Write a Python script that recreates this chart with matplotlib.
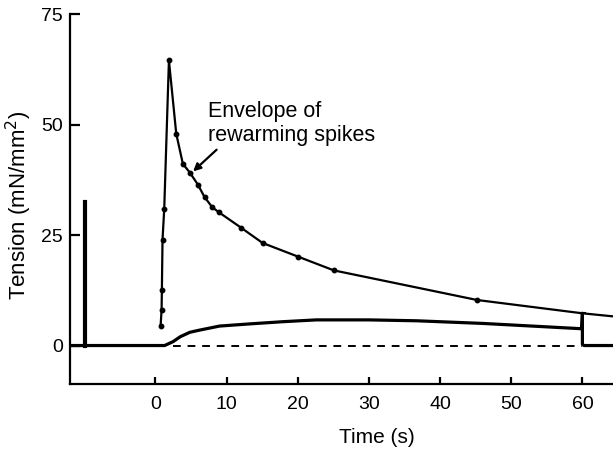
import matplotlib
matplotlib.use("Agg")
import matplotlib.pyplot as plt

plt.rcParams['font.family'] = ['Liberation Sans', 'DejaVu Sans']

# envelope of the rewarming spikes (time s, tension mN/mm2)
env_t = [0.73, 0.87, 0.91, 1.0, 1.24, 1.9, 2.93, 3.86, 4.85, 5.97, 6.9, 7.98, 8.96,
         12.0, 15.06, 20.06, 25.07, 45.2, 59.95, 64.3]
env_T = [4.45, 8.1, 12.6, 23.9, 30.9, 64.5, 47.9, 41.1, 39.1, 36.4, 33.6, 31.3, 30.1,
         26.7, 23.2, 20.1, 17.0, 10.3, 7.3, 6.6]
dot_n = 18  # the last points are not marked

# steady tension trace during rewarming
low_t = [-12.0, 1.3, 2.5, 3.5, 4.85, 6.25, 9.0, 13.3, 18.0, 22.6, 30.0, 36.7, 46.0, 59.9,
         60.0, 60.0, 60.2, 64.3]
low_T = [0, 0, 0.9, 2.0, 3.0, 3.5, 4.4, 4.9, 5.4, 5.8, 5.8, 5.6, 5.0, 3.8,
         7.3, 0.3, 0, 0]

spike_t = -9.85
spike_T = 32.5

xticks = [0, 10, 20, 30, 40, 50, 60]
yticks = [0, 25, 50, 75]

fig = plt.figure(figsize=(6.13, 4.49), dpi=100)
ax = fig.add_axes([0.1142, 0.1448, 0.8858, 0.824])

ax.plot(low_t, low_T, color='black', lw=2.3, solid_joinstyle='round')
ax.plot([spike_t, spike_t], [0, spike_T], color='black', lw=3)
ax.plot([2.5, 60], [0, 0], color='black', lw=1.4, ls=(0, (4, 3.5)))
ax.plot(env_t, env_T, color='black', lw=1.6)
ax.plot(env_t[:dot_n], env_T[:dot_n], 'o', color='black', ms=3.2)
ax.plot([59.6, 60.4], [7.3, 7.3], color='black', lw=1.5)

ax.text(7.4, 51.8, 'Envelope of', fontsize=15.5, ha='left', va='baseline')
ax.text(7.4, 46.2, 'rewarming spikes', fontsize=15.5, ha='left', va='baseline')
ax.annotate('', xy=(5.3, 39.4), xytext=(8.6, 44.3),
            arrowprops=dict(arrowstyle='-|>', color='black', lw=1.6,
                            mutation_scale=11, shrinkA=0, shrinkB=0))

ax.set_xlim(-12.0, 64.3)
ax.set_ylim(-8.7, 75)
ax.spines['top'].set_visible(False)
ax.spines['right'].set_visible(False)
ax.spines['left'].set_linewidth(1.6)
ax.spines['bottom'].set_linewidth(1.6)
ax.spines['left'].set_bounds(-8.7, 75)

ax.set_xticks(xticks)
ax.set_yticks(yticks)
ax.tick_params(axis='x', direction='in', length=5, width=1.6, pad=9, labelsize=14)
ax.tick_params(axis='y', direction='in', length=7, width=1.6, pad=5, labelsize=14)

ax.set_xlabel('Time (s)', fontsize=15)
ax.xaxis.set_label_coords(0.565, -0.12)
ax.set_ylabel('Tension (mN/mm$^2$)', fontsize=16)
ax.yaxis.set_label_coords(-0.066, 0.484)

fig.savefig('out.png', dpi=100)
